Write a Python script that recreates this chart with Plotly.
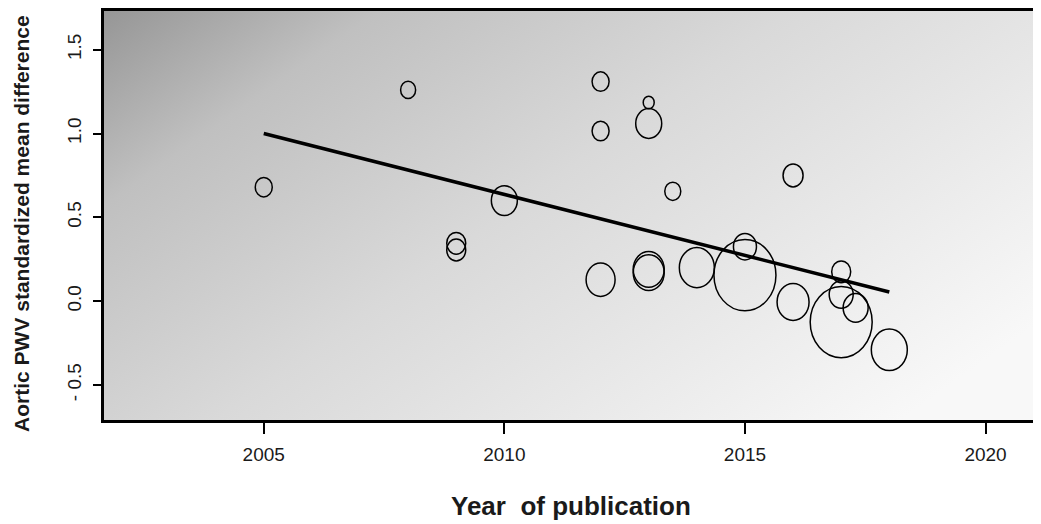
import base64
import plotly.graph_objects as go

# ---- data ----
years = [2005, 2008, 2009, 2009, 2010, 2012, 2012, 2012, 2013, 2013, 2013, 2013,
         2013.5, 2014, 2015, 2015, 2016, 2016, 2017, 2017, 2017.3, 2017, 2018]
smd = [0.68, 1.26, 0.345, 0.305, 0.60, 1.31, 1.015, 0.128, 1.185, 1.06, 0.19, 0.17,
       0.655, 0.20, 0.325, 0.155, 0.75, -0.005, 0.175, 0.04, -0.04, -0.125, -0.29]
# relative study precision (bubble scale)
precision = [1.7, 1.5, 1.9, 1.9, 2.6, 1.7, 1.7, 2.9, 1.1, 2.6, 3.1, 3.1,
             1.6, 3.5, 2.3, 6.2, 2.0, 3.2, 1.9, 2.4, 2.5, 6.2, 3.6]
fit_years = [2005, 2018]
fit_values = [1.00, 0.055]

x_ticks = [2005, 2010, 2015, 2020]
y_ticks = [-0.5, 0.0, 0.5, 1.0, 1.5]
y_tick_text = ["- 0.5", "0.0", "0.5", "1.0", "1.5"]

# ---- layout constants (page has an 8px body margin) ----
W, H = 1033, 516
ML, MR, MT, MB = 96, 3, 0, 104
PW, PH = W - ML - MR, H - MT - MB
FONT = "Liberation Sans, Arial, sans-serif"
SCALE = 10.0      # px per unit of precision
ASPECT = 1.15     # vertical stretch of the bubbles

# background gradient (svg image stretched over plot area)
svg = (f'<svg xmlns="http://www.w3.org/2000/svg" width="{PW}" height="{PH}" '
       f'viewBox="0 0 {PW} {PH}" preserveAspectRatio="none">'
       '<defs><linearGradient id="g" gradientUnits="userSpaceOnUse" '
       'x1="0" y1="0" x2="465" y2="650">'
       '<stop offset="0" stop-color="#969696"/>'
       '<stop offset="0.2" stop-color="#c0c0c0"/>'
       '<stop offset="0.5" stop-color="#d9d9d9"/>'
       '<stop offset="1" stop-color="#f8f8f8"/>'
       '</linearGradient></defs>'
       f'<rect width="{PW}" height="{PH}" fill="url(#g)"/></svg>')
bg_src = "data:image/svg+xml;base64," + base64.b64encode(svg.encode()).decode()

fig = go.Figure()

fig.add_trace(go.Scatter(
    x=years, y=smd, mode="markers",
    marker=dict(size=8, opacity=0),
    hovertemplate="%{x}: %{y}<extra></extra>", showlegend=False))

fig.add_trace(go.Scatter(
    x=fit_years, y=fit_values, mode="lines",
    line=dict(color="black", width=3.5), hoverinfo="skip", showlegend=False))

shapes = []
for xv, yv, p in zip(years, smd, precision):
    rx = p * SCALE / 2
    ry = rx * ASPECT
    shapes.append(dict(
        type="circle", xref="x", yref="y",
        xsizemode="pixel", ysizemode="pixel",
        xanchor=xv, yanchor=yv,
        x0=-rx, x1=rx, y0=-ry, y1=ry,
        line=dict(color="black", width=1.5), fillcolor="rgba(0,0,0,0)",
        layer="above"))

fig.update_layout(
    width=W, height=H, autosize=False,
    margin=dict(l=ML, r=MR, t=MT, b=MB, pad=0),
    paper_bgcolor="white", plot_bgcolor="white",
    font=dict(family=FONT, color="#1a1a1a", size=19),
    shapes=shapes,
    images=[dict(source=bg_src, xref="paper", yref="paper", x=0, y=1,
                 sizex=1, sizey=1, xanchor="left", yanchor="top",
                 sizing="stretch", layer="below")],
    xaxis=dict(range=[2001.68, 2021.09], tickvals=x_ticks,
               ticks="outside", ticklen=11, tickwidth=2, tickcolor="black",
               ticklabelstandoff=4,
               showline=True, linecolor="black", linewidth=2.5, mirror=True,
               showgrid=False, zeroline=False,
               tickfont=dict(size=19, family=FONT, color="#1a1a1a")),
    yaxis=dict(range=[-0.709, 1.731], tickvals=y_ticks, ticktext=y_tick_text,
               tickangle=-90,
               ticks="outside", ticklen=8, tickwidth=2, tickcolor="black",
               ticklabelstandoff=5,
               showline=True, linecolor="black", linewidth=2.5, mirror=True,
               showgrid=False, zeroline=False,
               tickfont=dict(size=19, family=FONT, color="#1a1a1a")),
    annotations=[
        dict(text="<b>Year  of publication</b>", xref="paper", yref="paper",
             x=0.5, y=0, xanchor="center", yanchor="middle", yshift=-86,
             showarrow=False, font=dict(size=26, family=FONT, color="#1a1a1a")),
        dict(text="<b>Aortic PWV standardized mean difference</b>",
             xref="paper", yref="paper", x=0, y=(PH - (222 - 8 - MT)) / PH,
             xanchor="left", yanchor="middle", xshift=-ML,
             textangle=-90, showarrow=False,
             font=dict(size=21, family=FONT, color="#1a1a1a")),
    ],
)

fig.write_html("out.html")
